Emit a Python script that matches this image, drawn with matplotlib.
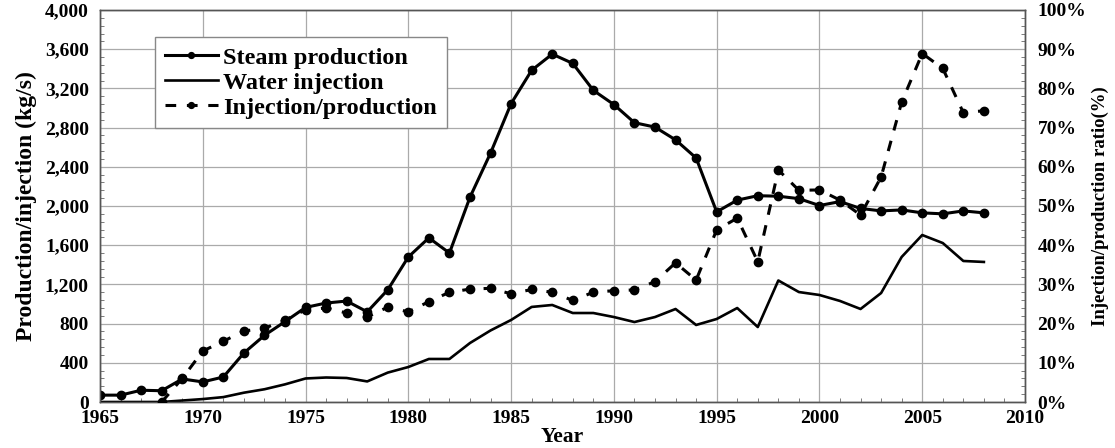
import matplotlib
matplotlib.use("Agg")
import matplotlib.pyplot as plt
from matplotlib.ticker import MultipleLocator, FuncFormatter

years = list(range(1965, 2009))
steam = [70, 70, 120, 115, 235, 205, 255, 500, 680, 820, 965, 1010, 1030, 920, 1145,
         1480, 1675, 1520, 2090, 2540, 3045, 3385, 3550, 3455, 3180, 3035, 2850, 2805,
         2675, 2490, 1940, 2060, 2105, 2100, 2075, 2005, 2045, 1975, 1950, 1960, 1930,
         1920, 1950, 1930]
water = [0, 0, 0, 0, 15, 30, 50, 95, 130, 180, 240, 250, 245, 210, 300,
         357, 439, 439, 602, 730, 837, 970, 990, 908, 908, 867, 816, 867,
         949, 786, 847, 959, 765, 1240, 1122, 1092, 1031, 949, 1112, 1480, 1704,
         1622, 1439, 1429]
ratio_years = list(range(1968, 2009))
ratio = [0, 6, 13, 15.5, 18.1, 18.8, 20.9, 23.5, 24, 22.7, 21.7, 24.2,
         23, 25.6, 28, 28.8, 29, 27.6, 28.7, 28, 25.9, 28, 28.4, 28.6, 30.7,
         35.5, 31.1, 43.9, 46.9, 35.8, 59.2, 54, 54.1, 51.5, 47.7, 57.4, 76.5,
         88.9, 85.1, 73.8, 74.3]

serif = ['Liberation Serif', 'DejaVu Serif']
plt.rcParams['font.family'] = serif
plt.rcParams['font.weight'] = 'bold'

fig = plt.figure(figsize=(11.15, 4.48), dpi=100)
ax = fig.add_axes([100/1115, 1-402/448, 925/1115, 392/448])
ax2 = ax.twinx()

ax.plot(years, steam, '-o', color='black', lw=2.2, ms=6, label='Steam production', zorder=3)
ax.plot(years, water, '-', color='black', lw=1.9, label='Water injection', zorder=3)
ax2.plot(ratio_years, ratio, '--o', color='black', lw=2.2, ms=6, dashes=(3.5, 3.5),
         label='Injection/production', zorder=3)

ax.set_xlim(1965, 2010)
ax.set_ylim(0, 4000)
ax2.set_ylim(0, 100)

ax.xaxis.set_major_locator(MultipleLocator(5))
ax.xaxis.set_minor_locator(MultipleLocator(1))
ax.yaxis.set_major_locator(MultipleLocator(400))
ax.yaxis.set_minor_locator(MultipleLocator(80))
ax2.yaxis.set_major_locator(MultipleLocator(10))
ax2.yaxis.set_minor_locator(MultipleLocator(2))
ax.yaxis.set_major_formatter(FuncFormatter(lambda v, p: f"{int(v):,}"))
ax2.yaxis.set_major_formatter(FuncFormatter(lambda v, p: f"{int(v)}%"))

ax.grid(True, which='major', color='#aaaaaa', lw=0.9)
ax.set_axisbelow(True)
ax.tick_params(axis='both', which='both', direction='in', color='#666666')
ax.tick_params(axis='y', which='major', length=0, labelsize=14, pad=8)
ax.tick_params(axis='x', which='major', length=0, labelsize=14, pad=6)
ax.tick_params(axis='both', which='minor', length=3)
ax.tick_params(axis='y', which='both', right=False)
ax.tick_params(axis='x', which='both', top=False)
ax2.tick_params(axis='y', which='both', direction='in', color='#666666')
ax2.tick_params(axis='y', which='major', length=0, labelsize=14, pad=9)
ax2.tick_params(axis='y', which='minor', length=3)
for a in (ax, ax2):
    for s in a.spines.values():
        s.set_color('#555555')
        s.set_linewidth(1.0)

ax.set_xlabel('Year', fontsize=15.5, fontweight='bold', labelpad=0)
ax.set_ylabel('Production/injection (kg/s)', fontsize=17, fontweight='bold', labelpad=6)
ax2.set_ylabel('Injection/production ratio(%)', fontsize=13.5, fontweight='bold', labelpad=4)

h1, l1 = ax.get_legend_handles_labels()
h2, l2 = ax2.get_legend_handles_labels()
leg = ax2.legend(h1 + h2, l1 + l2, loc='upper left', bbox_to_anchor=(55/925, 1-27/392),
                 borderaxespad=0,
                 prop={'family': serif, 'weight': 'bold', 'size': 17.5},
                 frameon=True, fancybox=False, edgecolor='#888888', framealpha=1,
                 handlelength=2.2, handletextpad=0.2, labelspacing=0.12, borderpad=0.4,
                 markerscale=0.7)
leg.get_frame().set_linewidth(1.0)
leg.set_zorder(5)

fig.savefig('out.png', dpi=100)
